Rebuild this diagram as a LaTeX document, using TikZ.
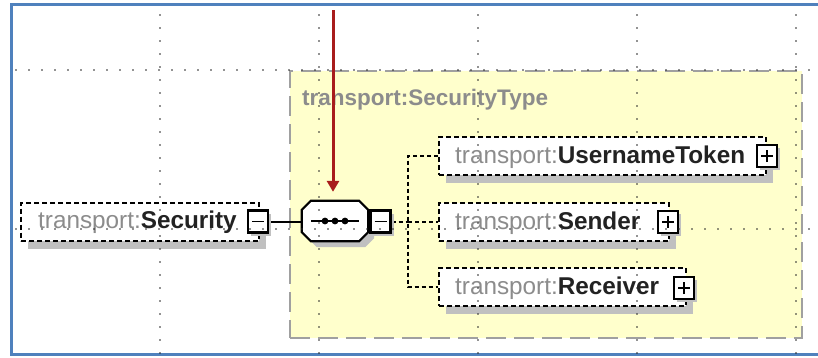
\documentclass[tikz,border=0pt]{standalone}
\usepackage{fontspec}
\setmainfont{Liberation Sans}
\usetikzlibrary{shadows,arrows.meta}
\definecolor{frameblue}{HTML}{4F81BD}
\definecolor{typeyellow}{HTML}{FFFFCC}
\definecolor{typeborder}{HTML}{A0A0A0}
\definecolor{pfx}{HTML}{8C8C8C}
\definecolor{nm}{HTML}{222222}
\definecolor{arrowred}{HTML}{A81C1C}
\definecolor{shadowgray}{HTML}{C0C0C0}
\begin{document}
\begin{tikzpicture}[x=1pt,y=-1pt,
  elem/.style={draw=black, line width=2pt, dash pattern=on 5pt off 3pt, fill=white,
    minimum height=38pt, inner sep=0pt, anchor=west,
    general shadow={fill=shadowgray, shadow xshift=7pt, shadow yshift=-8pt}},
  lbl/.style={font=\fontsize{24.3}{28}\selectfont, inner sep=0pt, anchor=base west},
  tog/.style={draw=black, line width=2.4pt, fill=white, minimum width=20pt,
    minimum height=22pt, inner sep=0pt,
    general shadow={fill=shadowgray, shadow xshift=3pt, shadow yshift=-3pt}},
  togmark/.style={draw=black, line width=1.6pt},
  conn/.style={draw=black, line width=2pt, dash pattern=on 4pt off 3pt},
  connsolid/.style={draw=black, line width=2pt},
  griddot/.style={draw=black!85, line width=1.7pt, line cap=round, dash pattern=on 0pt off 13pt},
  redarrow/.style={draw=arrowred, line width=3pt, -{Triangle[width=12pt,length=11pt]}},
]
\useasboundingbox (0,0) rectangle (818,357);
\fill[white] (0,0) rectangle (818,357);

% frame
\draw[frameblue, line width=3pt] (11,4) rectangle (822,354);

% type box
\node (stype) [draw=typeborder, fill=typeyellow, line width=2pt, dash pattern=on 20pt off 8pt,
  minimum width=512pt, minimum height=267pt, anchor=north west, inner sep=0pt] at (289,70) {};
\node (stypeT) [lbl, font=\fontsize{22.5}{27}\selectfont\bfseries, text=pfx] at (302,105) {transport:SecurityType};

% connectors
\node (seq) [minimum width=66pt, minimum height=40pt, inner sep=0pt] at (335,221) {};
\node (m1) [tog] at (258,221.5) {};
\node (m2) [tog] at (380.5,221.5) {};
\coordinate (bus) at (408,221.5);
\node (ut) [elem, minimum width=327pt] at (438,155.5) {};
\node (snd) [elem, minimum width=230pt] at (438,221.5) {};
\node (rcv) [elem, minimum width=247pt] at (438,287) {};
\node (sec) [elem, minimum width=238pt] at (20,221.5) {};

\draw[connsolid] (m1.east) -- (m1.east -| seq.west);
\draw[conn] (m2.east) -- (bus);
\draw[conn] (ut.west) -- (ut.west -| bus) -- (rcv.west -| bus) -- (rcv.west);
\draw[conn] (bus) -- (snd.west);

% redraw boxes on top of connectors
\node (ut2) [elem, minimum width=327pt] at (438,155.5) {};
\node (snd2) [elem, minimum width=230pt] at (438,221.5) {};
\node (rcv2) [elem, minimum width=247pt] at (438,287) {};
\node (sec2) [elem, minimum width=238pt] at (20,221.5) {};

% sequence octagon
\begin{scope}[transform canvas={shift={(6pt,-6pt)}}]
\fill[shadowgray] ([xshift=9pt]seq.north west) -- ([xshift=-9pt]seq.north east)
  -- ([yshift=-9pt]seq.north east) -- ([yshift=9pt]seq.south east)
  -- ([xshift=-9pt]seq.south east) -- ([xshift=9pt]seq.south west)
  -- ([yshift=9pt]seq.south west) -- ([yshift=-9pt]seq.north west) -- cycle;
\end{scope}
\draw[fill=white, line width=2.2pt] ([xshift=9pt]seq.north west) -- ([xshift=-9pt]seq.north east)
  -- ([yshift=-9pt]seq.north east) -- ([yshift=9pt]seq.south east)
  -- ([xshift=-9pt]seq.south east) -- ([xshift=9pt]seq.south west)
  -- ([yshift=9pt]seq.south west) -- ([yshift=-9pt]seq.north west) -- cycle;
\draw[line width=1.6pt] ([xshift=-24pt]seq.center) -- ([xshift=24pt]seq.center);
\foreach \dx in {-10,0,10} \fill ([xshift=\dx pt]seq.center) circle (3.4pt);

% toggles
\node (m1b) [tog] at (258,221.5) {};
\node (m2b) [tog] at (380.5,221.5) {};
\node (p1) [tog] at (767,156) {};
\node (p2) [tog] at (668,222) {};
\node (p3) [tog] at (684,288) {};
\foreach \t in {m1b,m2b,p1,p2,p3}
  \draw[togmark] ([xshift=-6pt]\t.center) -- ([xshift=6pt]\t.center);
\foreach \t in {p1,p2,p3}
  \draw[togmark] ([yshift=-6pt]\t.center) -- ([yshift=6pt]\t.center);

% labels
\node (secT) [lbl] at (38,228.5) {\textcolor{pfx}{transport:}\textcolor{nm}{\bfseries Security}};
\node (utT) [lbl] at (455,163) {\textcolor{pfx}{transport:}\textcolor{nm}{\bfseries UsernameToken}};
\node (sndT) [lbl] at (455,229) {\textcolor{pfx}{transport:}\textcolor{nm}{\bfseries Sender}};
\node (rcvT) [lbl] at (455,294.5) {\textcolor{pfx}{transport:}\textcolor{nm}{\bfseries Receiver}};

% grid dots
\foreach \x in {160,319,478,637,796} \draw[griddot] (\x,15) -- (\x,357);
\draw[griddot] (16,70) -- (818,70);
\draw[griddot] (16,229) -- (818,229);

% red arrow
\coordinate (atop) at (333,10);
\draw[redarrow, shorten >=9pt] (atop) -- (atop |- seq.north);
\end{tikzpicture}
\end{document}
